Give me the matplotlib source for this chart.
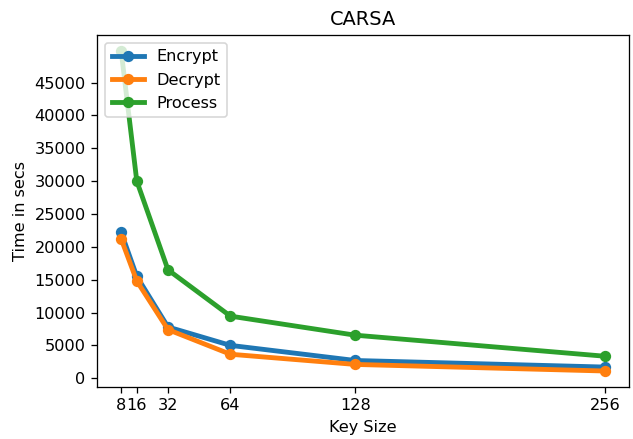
import matplotlib
matplotlib.use("Agg")
import matplotlib.pyplot as plt

key_sizes = [8, 16, 32, 64, 128, 256]
encrypt = [22200, 15500, 7800, 5000, 2700, 1700]
decrypt = [21200, 14800, 7400, 3650, 2100, 1100]
process = [49800, 30000, 16500, 9450, 6550, 3350]

# reference looks like an upscaled notebook figure, so render at a larger dpi
dpi = 116
fig = plt.figure(figsize=(633 / dpi, 439 / dpi), dpi=dpi)
ax = fig.add_axes([97 / 633, 1 - 387 / 439, 532 / 633, 352 / 439])

ax.plot(key_sizes, encrypt, marker="o", linewidth=3, label="Encrypt")
ax.plot(key_sizes, decrypt, marker="o", linewidth=3, label="Decrypt")
ax.plot(key_sizes, process, marker="o", linewidth=3, label="Process")

ax.set_xticks(key_sizes)
ax.set_yticks(range(0, 50000, 5000))
ax.set_xlabel("Key Size")
ax.set_ylabel("Time in secs")
ax.set_title("CARSA")
ax.legend(loc="upper left")

fig.savefig("out.png", dpi=dpi)
